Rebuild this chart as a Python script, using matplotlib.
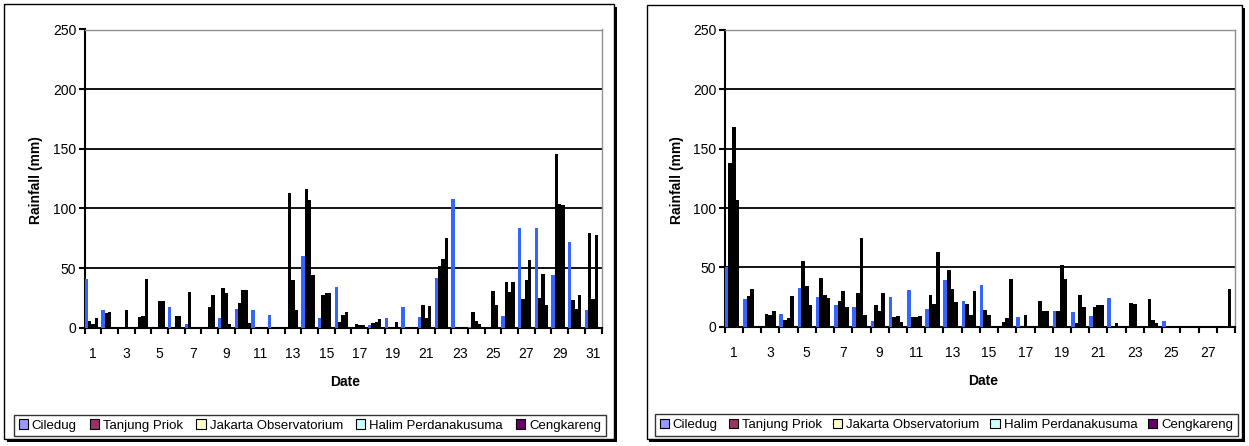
import matplotlib
matplotlib.use("Agg")
import matplotlib.pyplot as plt
from matplotlib.patches import Patch, Rectangle
import numpy as np

plt.rcParams['font.family'] = ['Liberation Sans', 'DejaVu Sans']

stations = ["Ciledug", "Tanjung Priok", "Jakarta Observatorium",
            "Halim Perdanakusuma", "Cengkareng"]
legend_colors = ['#9999ff', '#993366', '#ffffcc', '#ccffff', '#660066']
bar_colors = ['#3366ff', 'black', 'black', 'black', 'black']

# left chart: 31 days
left_ciledug    = [41, 15, 0, 0, 0, 17, 3, 0, 8, 16, 15, 11, 0, 60, 8, 34, 0, 2, 8, 17,
                   9, 42, 108, 1, 0, 10, 84, 84, 44, 72, 15]
left_tanjung    = [6, 12, 0, 9, 1, 1, 30, 0, 33, 21, 0, 0, 113, 116, 27, 5, 3, 4, 0, 0,
                   19, 52, 0, 13, 1, 38, 24, 25, 146, 23, 79]
left_jakarta    = [3, 13, 15, 10, 22, 10, 0, 17, 29, 32, 0, 0, 40, 107, 29, 11, 2, 5, 0, 0,
                   8, 58, 0, 6, 31, 30, 40, 45, 104, 16, 24]
left_halim      = [8, 0, 1, 41, 22, 10, 0, 27, 3, 32, 0, 0, 15, 44, 29, 13, 2, 7, 5, 1,
                   18, 75, 0, 3, 19, 38, 57, 19, 103, 27, 78]
left_cengkareng = [0, 0, 0, 0, 0, 0, 0, 0, 0, 4, 0, 0, 0, 0, 0, 0, 0, 0, 0, 0,
                   0, 0, 0, 0, 0, 0, 0, 0, 0, 0, 0]

# right chart: 28 days
right_ciledug    = [50, 23, 0, 11, 33, 25, 18, 17, 5, 25, 31, 15, 39, 22, 35, 0, 8, 0,
                    13, 12, 9, 24, 0, 0, 5, 0, 0, 0]
right_tanjung    = [138, 26, 11, 6, 55, 41, 22, 28, 18, 8, 8, 27, 48, 19, 14, 4, 0, 22,
                    13, 3, 17, 0, 20, 23, 0, 0, 0, 0]
right_jakarta    = [168, 32, 10, 7, 34, 27, 30, 75, 13, 9, 8, 19, 32, 10, 10, 7, 10, 13,
                    52, 27, 18, 3, 19, 6, 0, 0, 0, 0]
right_halim      = [107, 0, 13, 26, 18, 24, 17, 10, 28, 4, 9, 63, 21, 30, 0, 40, 0, 13,
                    40, 17, 18, 0, 1, 3, 0, 0, 0, 32]
right_cengkareng = [0] * 28

left_data = [left_ciledug, left_tanjung, left_jakarta, left_halim, left_cengkareng]
right_data = [right_ciledug, right_tanjung, right_jakarta, right_halim, right_cengkareng]

W, H = 1249, 446
fig = plt.figure(figsize=(W / 100, H / 100), dpi=100)


def px(x0, y0, x1, y1):
    # pixel box (top-left origin) -> figure fraction rect
    return [x0 / W, 1 - y1 / H, (x1 - x0) / W, (y1 - y0) / H]


def frame(x0, y0, x1, y1):
    sh = Rectangle((x0 / W + 2.5 / W, 1 - y1 / H - 2.5 / H), (x1 - x0) / W, (y1 - y0) / H,
                   transform=fig.transFigure, facecolor='black', edgecolor='black', lw=0,
                   zorder=-3)
    box = Rectangle((x0 / W, 1 - y1 / H), (x1 - x0) / W, (y1 - y0) / H,
                    transform=fig.transFigure, facecolor='white', edgecolor='black', lw=1,
                    zorder=-2)
    fig.patches.extend([sh, box])


frame(4, 4, 614, 439)
frame(647, 5, 1242, 439)


def panel(rect, data, ylab_x, date_xy, leg_box):
    ax = fig.add_axes(rect)
    n = len(data[0])
    x = np.arange(n)
    for i, vals in enumerate(data):
        ax.bar(x + 0.1 + i * 0.2, vals, width=0.2, color=bar_colors[i], linewidth=0, zorder=3)
    ax.set_xlim(0, n)
    ax.set_ylim(0, 250)
    ax.set_yticks(range(0, 251, 50))
    for y in range(50, 250, 50):
        ax.axhline(y, color='black', lw=1.3, zorder=1)
    ax.set_xticks(np.arange(0, n, 2) + 0.5)
    ax.set_xticklabels([str(d) for d in range(1, n + 1, 2)])
    ax.set_xticks(np.arange(0, n + 1), minor=True)
    ax.tick_params(axis='x', which='major', length=0, pad=14, labelsize=10)
    ax.tick_params(axis='x', which='minor', length=4, width=1.5, direction='out')
    ax.tick_params(axis='y', length=4, width=1.5, direction='out', pad=2, labelsize=10)
    for s in ['left', 'bottom']:
        ax.spines[s].set_color('black')
        ax.spines[s].set_linewidth(1.5)
    for s in ['top', 'right']:
        ax.spines[s].set_color('#909090')
        ax.spines[s].set_linewidth(1)
    fig.text(ylab_x / W, 1 - 180 / H, "Rainfall (mm)", rotation=90, ha='center', va='center',
             fontsize=10, fontweight='bold')
    fig.text(date_xy[0] / W, 1 - date_xy[1] / H, "Date", ha='center', va='center',
             fontsize=10, fontweight='bold')
    handles = [Patch(facecolor=c, edgecolor='black', linewidth=0.8) for c in legend_colors]
    leg = fig.legend(handles, stations, loc='center', ncol=5, mode='expand',
                     bbox_to_anchor=px(*leg_box), fontsize=9.5, frameon=True, fancybox=False,
                     edgecolor='black', handlelength=0.7, handleheight=0.7, handletextpad=0.3,
                     columnspacing=0.8, borderpad=0.35, borderaxespad=0)
    leg.get_frame().set_linewidth(1)
    return ax


panel(px(84.7, 29.5, 601.5, 327.7), left_data, 36, (345, 382), (14, 414, 606, 437))
panel(px(724.7, 30, 1235, 326.7), right_data, 677, (983, 381), (655, 413, 1238, 437))

fig.savefig("out.png", dpi=100)
